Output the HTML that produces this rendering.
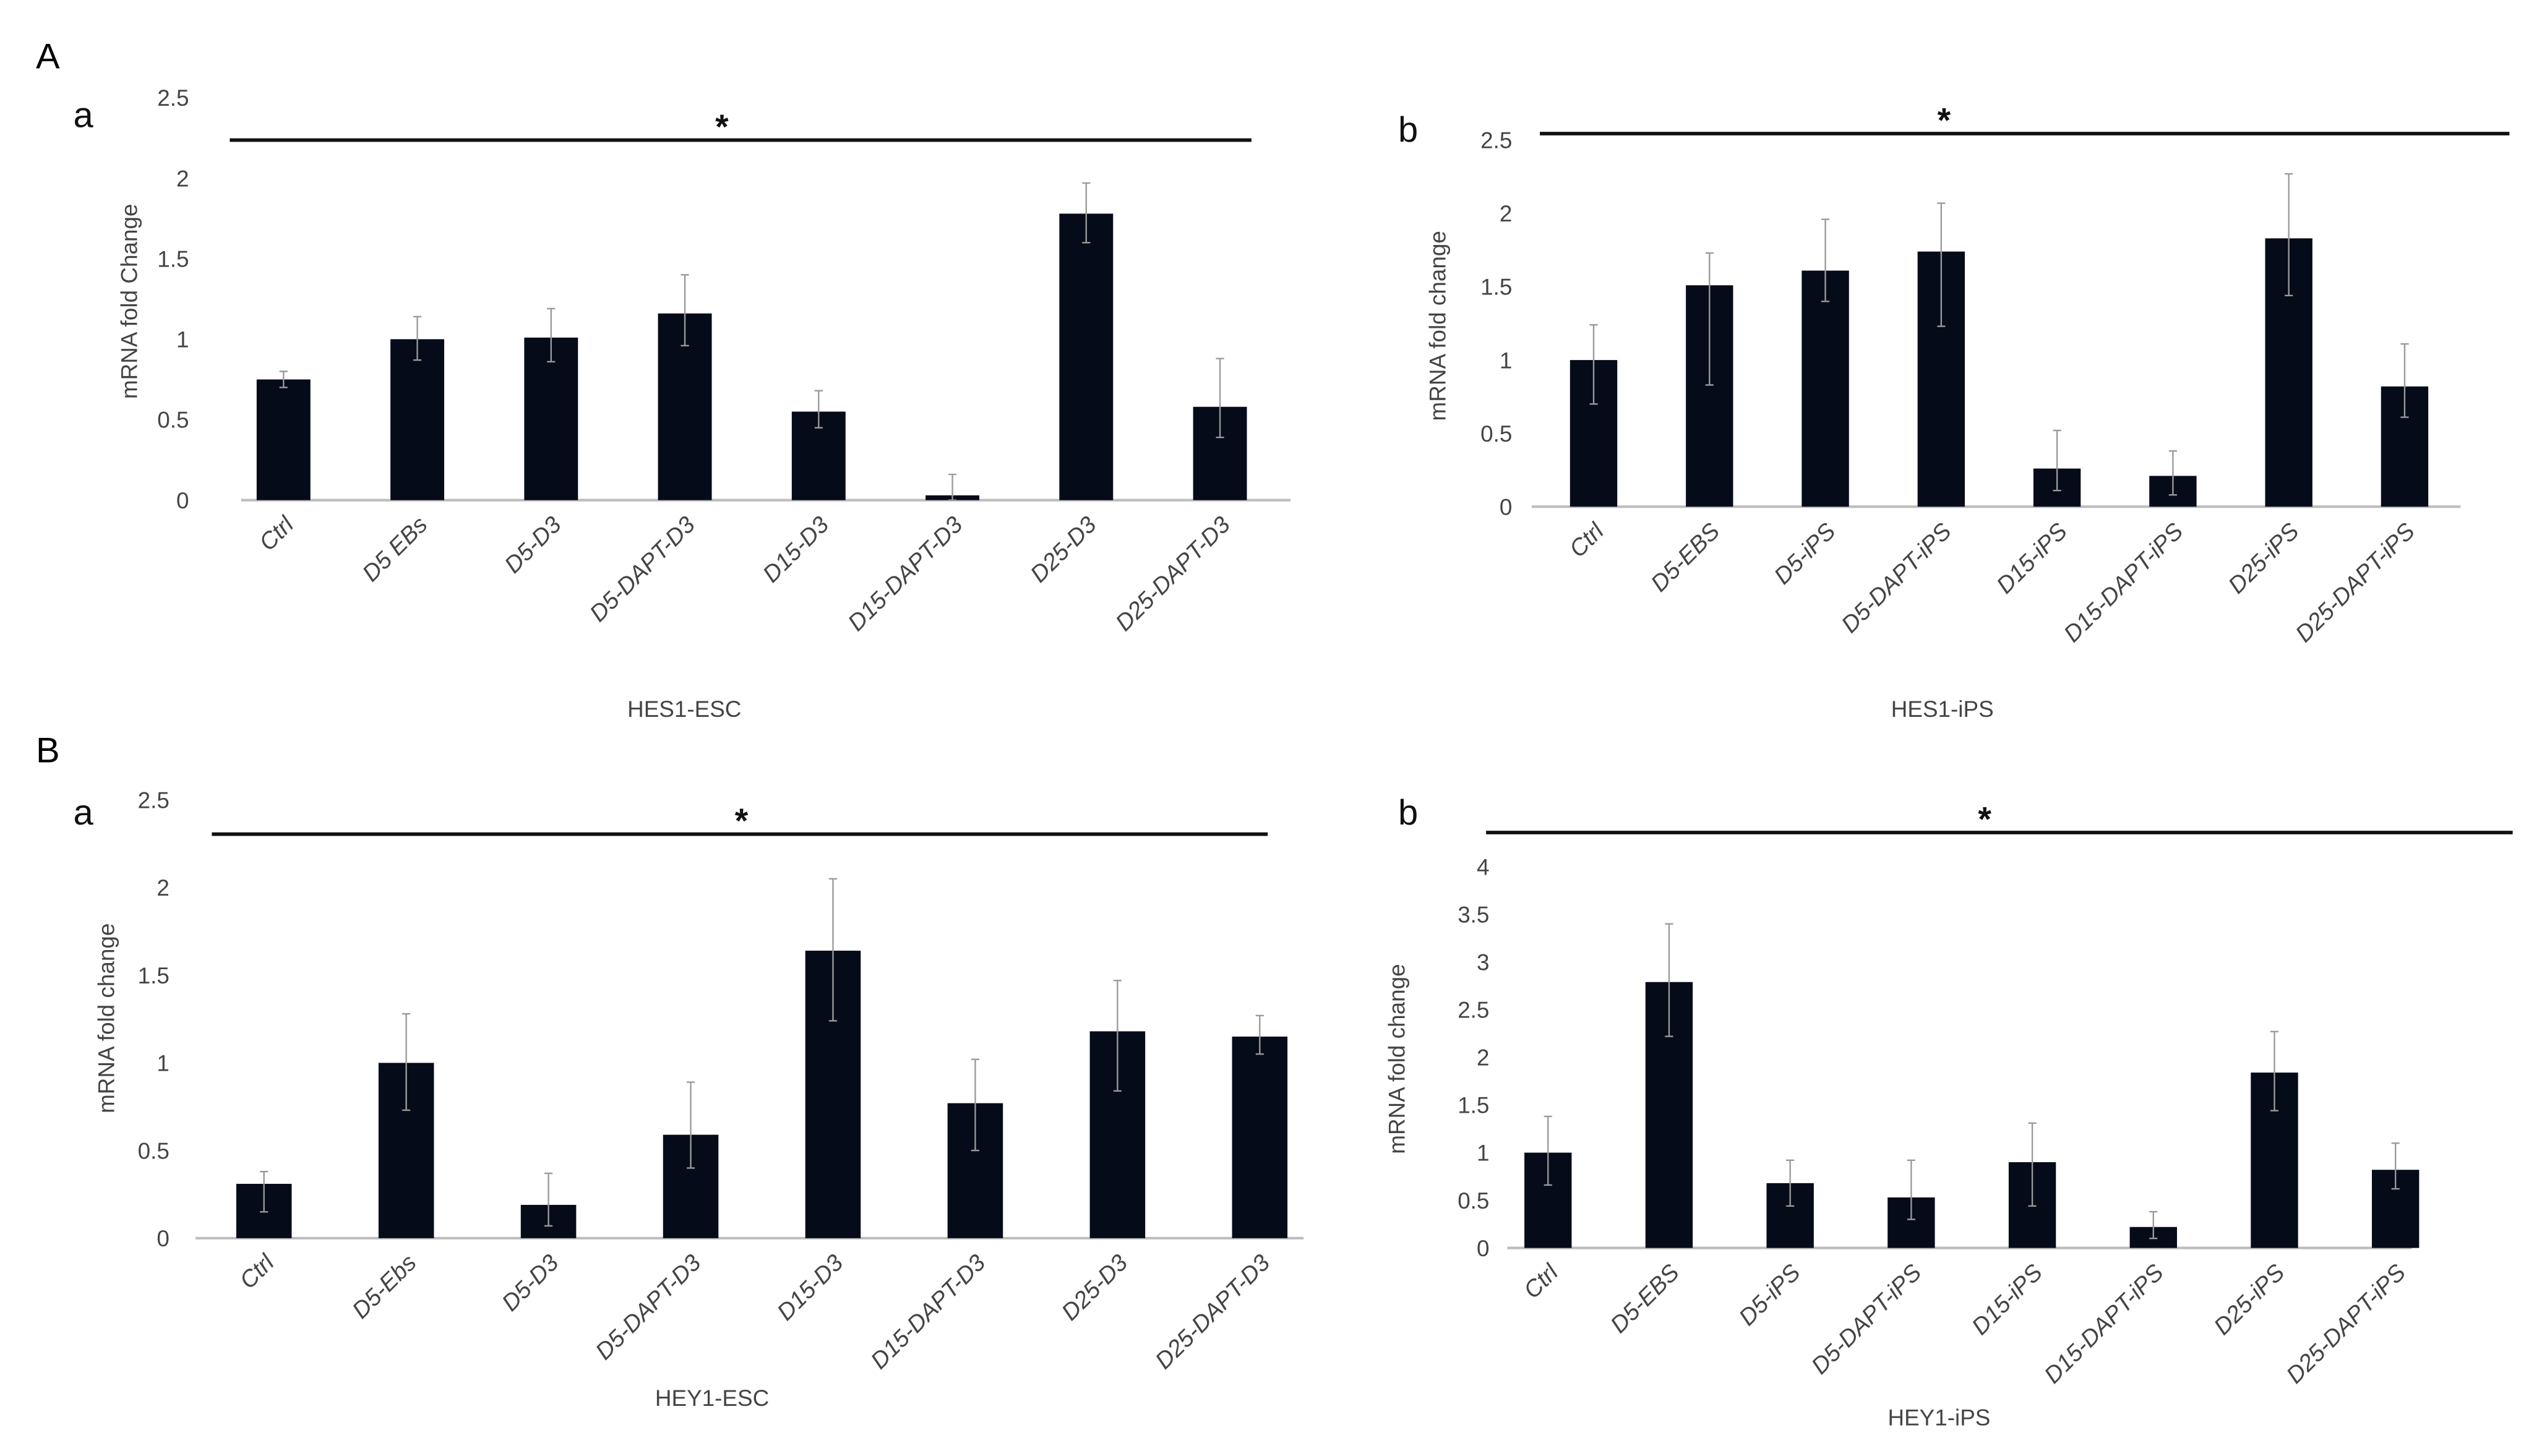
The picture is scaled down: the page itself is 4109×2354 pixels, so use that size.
<!DOCTYPE html>
<html><head><meta charset="utf-8"><style>
html,body{margin:0;padding:0;background:#fff}
svg{display:block}
text{font-family:"Liberation Sans",sans-serif}
</style></head><body>
<svg id="fig" xmlns="http://www.w3.org/2000/svg" width="4109" height="2354" viewBox="0 0 1560 893.7">
<rect width="1560" height="893.7" fill="#fff"/>
<text x="22" y="42" font-size="22">A</text>
<text x="22" y="468" font-size="22">B</text>
</svg>
<script>
const cats1=["Ctrl","D5 EBs","D5-D3","D5-DAPT-D3","D15-D3","D15-DAPT-D3","D25-D3","D25-DAPT-D3"];
const vals1=[0.75,1.0,1.01,1.16,0.55,0.03,1.78,0.58];
const lo1=[0.70,0.87,0.86,0.96,0.45,0.0,1.60,0.39];
const hi1=[0.80,1.14,1.19,1.40,0.68,0.16,1.97,0.88];
const ticks1=[0,0.5,1,1.5,2,2.5];

const cats2=["Ctrl","D5-EBS","D5-iPS","D5-DAPT-iPS","D15-iPS","D15-DAPT-iPS","D25-iPS","D25-DAPT-iPS"];
const vals2=[1.0,1.51,1.61,1.74,0.26,0.21,1.83,0.82];
const lo2=[0.70,0.83,1.40,1.23,0.11,0.08,1.44,0.61];
const hi2=[1.24,1.73,1.96,2.07,0.52,0.38,2.27,1.11];
const ticks2=[0,0.5,1,1.5,2,2.5];

const cats3=["Ctrl","D5-Ebs","D5-D3","D5-DAPT-D3","D15-D3","D15-DAPT-D3","D25-D3","D25-DAPT-D3"];
const vals3=[0.31,1.0,0.19,0.59,1.64,0.77,1.18,1.15];
const lo3=[0.15,0.73,0.07,0.40,1.24,0.50,0.84,1.05];
const hi3=[0.38,1.28,0.37,0.89,2.05,1.02,1.47,1.27];
const ticks3=[0,0.5,1,1.5,2,2.5];

const cats4=["Ctrl","D5-EBS","D5-iPS","D5-DAPT-iPS","D15-iPS","D15-DAPT-iPS","D25-iPS","D25-DAPT-iPS"];
const vals4=[1.0,2.79,0.68,0.53,0.90,0.22,1.84,0.82];
const lo4=[0.66,2.22,0.44,0.30,0.44,0.10,1.44,0.62];
const hi4=[1.38,3.40,0.92,0.92,1.31,0.38,2.27,1.10];
const ticks4=[0,0.5,1,1.5,2,2.5,3,3.5,4];

const svg=document.getElementById('fig');
const NS='http://www.w3.org/2000/svg';
function el(tag,attrs,parent){const e=document.createElementNS(NS,tag);for(const k in attrs)e.setAttribute(k,attrs[k]);(parent||svg).appendChild(e);return e;}

function panel(p){
  const g=el('g',{});
  
  
  const y=v=>p.y0-(v/p.ymax)*(p.y0-p.ytop);
  const x=i=>p.x0+i*p.step;
  p.ticks.forEach(t=>{
    const tx=el('text',{x:p.tickX,y:y(t)+5,'font-size':14,'text-anchor':'end',fill:'#444'},g);
    tx.textContent=String(t);
    
    
  });
  const ax=el('line',{x1:p.axL,x2:p.axR,y1:p.y0,y2:p.y0,stroke:'#bdbdbd','stroke-width':1.6},g);
  
  
  p.vals.forEach((v,i)=>{
    const cx=x(i);
    const r=el('rect',{x:cx-p.bw/2,y:y(v),width:p.bw,height:p.y0-y(v),fill:'#060b1a'},g);
    
    
    const eb=el('path',{d:`M${cx},${y(p.lo[i])}V${y(p.hi[i])}M${cx-2.5},${y(p.hi[i])}H${cx+2.5}M${cx-2.5},${y(p.lo[i])}H${cx+2.5}`,stroke:'#9a9a9a','stroke-width':0.9,fill:'none'},g);
    
    
    const lb=el('text',{x:0,y:0,'font-size':14.5,'font-style':'italic','text-anchor':'end',fill:'#444',transform:`translate(${cx+7},${p.y0+16}) rotate(-45)`},g);
    lb.textContent=p.cats[i];
    
    
  });
  const sl=el('line',{x1:p.sL,x2:p.sR,y1:p.sY,y2:p.sY,stroke:'#111','stroke-width':2.2},g);
  
  
  const st=el('text',{x:p.starX,y:p.sY-1,'font-size':21,'text-anchor':'middle',fill:'#111','font-weight':'bold'},g);
  st.textContent='*';
  
  
  const pl=el('text',{x:p.letX,y:p.letY,'font-size':22,fill:'#111'},g);
  pl.textContent=p.letter;
  
  
  const yt=el('text',{x:0,y:0,'font-size':14,'text-anchor':'middle',fill:'#444',transform:`translate(${p.ytX},${p.ytY}) rotate(-90)`},g);
  yt.textContent=p.ytitle;
  
  
  const xt=el('text',{x:p.xtX,y:p.xtY,'font-size':14,'text-anchor':'middle',fill:'#444'},g);
  xt.textContent=p.xtitle;
  
  
}

panel({id:'hes1-esc',cats:cats1,vals:vals1,lo:lo1,hi:hi1,ticks:ticks1,ymax:2.5,y0:307,ytop:60,x0:174,step:82.1,bw:33,tickX:116,axL:148,axR:792,sL:141,sR:768,sY:86,starX:443,letter:'a',letX:45,letY:78,ytX:84,ytY:185,ytitle:'mRNA fold Change',xtitle:'HES1-ESC',xtX:420,xtY:440});
panel({id:'hes1-ips',cats:cats2,vals:vals2,lo:lo2,hi:hi2,ticks:ticks2,ymax:2.5,y0:311,ytop:86,x0:978,step:71.1,bw:29,tickX:928,axL:940,axR:1510,sL:945,sR:1540,sY:82,starX:1193,letter:'b',letX:858,letY:87,ytX:887,ytY:200,ytitle:'mRNA fold change',xtitle:'HES1-iPS',xtX:1192,xtY:440});
panel({id:'hey1-esc',cats:cats3,vals:vals3,lo:lo3,hi:hi3,ticks:ticks3,ymax:2.5,y0:760,ytop:491,x0:162,step:87.3,bw:34,tickX:104,axL:120,axR:800,sL:130,sR:778,sY:512,starX:455,letter:'a',letX:45,letY:506,ytX:70,ytY:625,ytitle:'mRNA fold change',xtitle:'HEY1-ESC',xtX:437,xtY:863});
panel({id:'hey1-ips',cats:cats4,vals:vals4,lo:lo4,hi:hi4,ticks:ticks4,ymax:4,y0:766,ytop:532,x0:950,step:74.3,bw:29,tickX:914,axL:925,axR:1480,sL:912,sR:1542,sY:511,starX:1218,letter:'b',letX:858,letY:506,ytX:862,ytY:650,ytitle:'mRNA fold change',xtitle:'HEY1-iPS',xtX:1190,xtY:875});
</script>
</body></html>
